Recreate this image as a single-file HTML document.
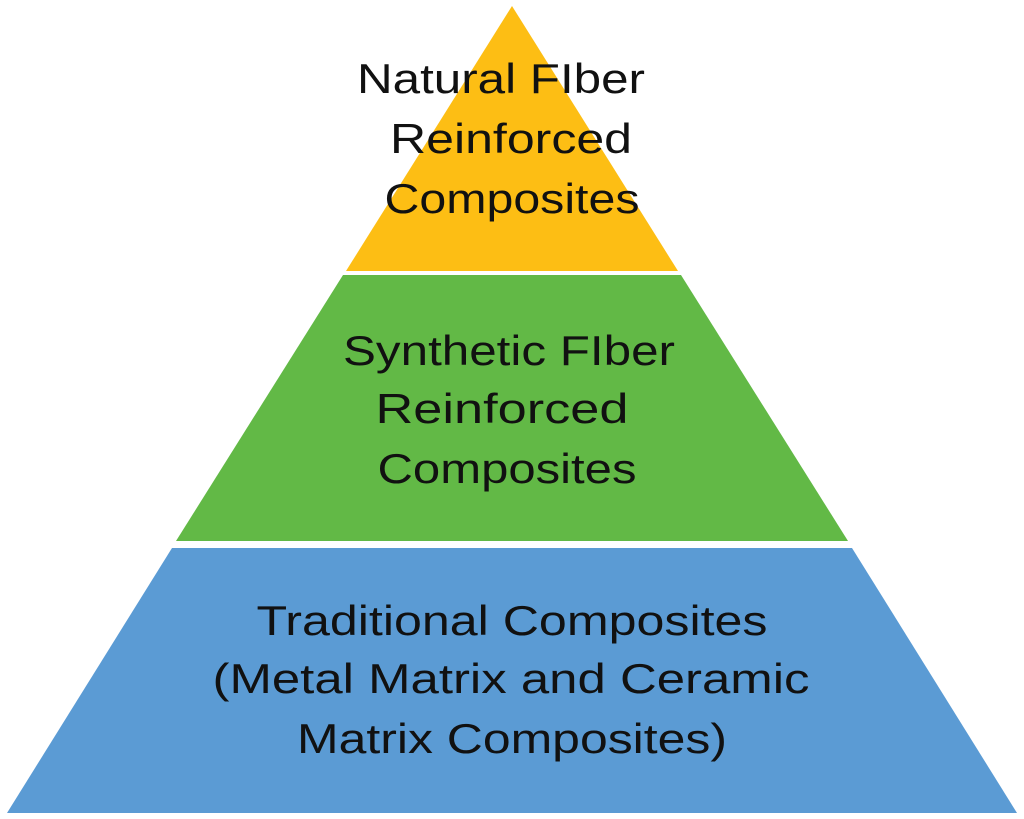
<!DOCTYPE html>
<html><head><meta charset="utf-8"><style>
html,body{margin:0;padding:0;background:#fff;}
svg{display:block;}
text{font-family:"Liberation Sans",sans-serif;font-size:42px;fill:#111;text-anchor:middle;}
</style></head><body>
<svg width="1024" height="819" viewBox="0 0 1024 819">
<polygon points="512,6 678,271 346,271" fill="#FDBE14"/>
<polygon points="343,275 681,275 848,541 176,541" fill="#62B946"/>
<polygon points="172,548 852,548 1017,813 7,813" fill="#5B9BD4"/>
<text x="501" y="93" textLength="288" lengthAdjust="spacingAndGlyphs">Natural FIber</text>
<text x="511" y="153" textLength="242" lengthAdjust="spacingAndGlyphs">Reinforced</text>
<text x="512" y="213" textLength="255" lengthAdjust="spacingAndGlyphs">Composites</text>
<text x="509" y="365" textLength="332" lengthAdjust="spacingAndGlyphs">Synthetic FIber</text>
<text x="502" y="423" textLength="253" lengthAdjust="spacingAndGlyphs">Reinforced</text>
<text x="507" y="483" textLength="259" lengthAdjust="spacingAndGlyphs">Composites</text>
<text x="512" y="635" textLength="511" lengthAdjust="spacingAndGlyphs">Traditional Composites</text>
<text x="511" y="693" textLength="597" lengthAdjust="spacingAndGlyphs">(Metal Matrix and Ceramic</text>
<text x="512" y="753" textLength="430" lengthAdjust="spacingAndGlyphs">Matrix Composites)</text>
</svg>
</body></html>
